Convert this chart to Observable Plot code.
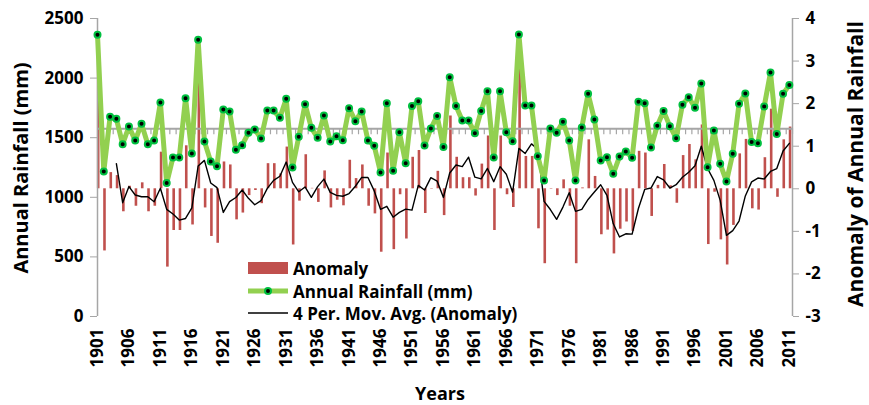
<!DOCTYPE html>
<html><head><meta charset="utf-8">
<script src="https://cdn.jsdelivr.net/npm/d3@7"></script>
<script src="https://cdn.jsdelivr.net/npm/@observablehq/plot@0.6"></script>
<style>
body{margin:0;background:#fff;font-family:"Open Sans",sans-serif;}
#wrap{position:relative;width:869px;height:405px;overflow:hidden;}
#wrap svg{position:absolute;left:0;top:0;}
.t{position:absolute;font-weight:700;color:#000;white-space:nowrap;line-height:1;transform:translate(-50%,-50%);}
.rot{transform:translate(-50%,-50%) rotate(-90deg);}
.lg{position:absolute;left:248px;font-weight:700;font-size:17px;color:#000;white-space:nowrap;display:flex;align-items:center;height:22px;}
.lg svg{position:static!important;margin-right:5px;}
</style></head><body><div id="wrap"></div>
<script>
const years = d3.range(1901, 2012);
const rainfall = [
2363,1216,1675,1658,1446,1594,1477,1616,1446,1477,
1795,1119,1334,1334,1832,1367,2321,1468,1300,1261,
1737,1720,1398,1437,1541,1569,1493,1728,1728,1667,
1826,1250,1507,1781,1583,1499,1686,1468,1513,1479,
1748,1639,1720,1477,1432,1208,1790,1222,1546,1286,
1765,1806,1435,1577,1683,1423,2008,1765,1644,1644,
1538,1725,1890,1334,1890,1546,1471,2366,1770,1770,
1345,1141,1577,1541,1633,1477,1141,1586,1868,1653,
1309,1337,1197,1342,1384,1331,1801,1790,1418,1600,
1723,1597,1496,1776,1840,1751,1955,1253,1560,1281,
1133,1365,1784,1871,1463,1454,1762,2047,1530,1868,
1943];
const anomaly = [
3.13,-1.46,0.38,0.31,-0.54,0.06,-0.41,0.14,-0.54,-0.41,
0.86,-1.84,-0.98,-0.98,1.01,-0.85,2.96,-0.45,-1.12,-1.28,
0.63,0.56,-0.73,-0.57,-0.16,-0.04,-0.35,0.59,0.59,0.35,
0.98,-1.32,-0.29,0.80,0.01,-0.32,0.42,-0.45,-0.27,-0.40,
0.67,0.24,0.56,-0.41,-0.59,-1.49,0.84,-1.43,-0.14,-1.18,
0.74,0.90,-0.58,-0.01,0.41,-0.63,1.71,0.74,0.26,0.26,
-0.17,0.58,1.24,-0.98,1.24,-0.14,-0.44,3.14,0.76,0.76,
-0.94,-1.76,-0.01,-0.16,0.21,-0.41,-1.76,0.02,1.15,0.29,
-1.08,-0.97,-1.53,-0.95,-0.78,-1.00,0.88,0.84,-0.65,0.08,
0.57,0.07,-0.34,0.78,1.04,0.68,1.50,-1.31,-0.08,-1.20,
-1.79,-0.86,0.82,1.16,-0.47,-0.50,0.73,1.87,-0.20,1.15,
1.45];
const xTicks = d3.range(1901, 2012, 5);
const rainTicks = [0, 500, 1000, 1500, 2000, 2500];
const anomalyTicks = [-3, -2, -1, 0, 1, 2, 3, 4];
const rainCross = 1575;
const xDomain = [1901, 2011.5];
const legendLabels = ["Anomaly", "Annual Rainfall (mm)", "4 Per. Mov. Avg. (Anomaly)"];

const data = years.map((year, i) => ({year, rain: rainfall[i], anomaly: anomaly[i]}));
const common = {
  width: 869, height: 405,
  marginLeft: 97, marginRight: 77, marginTop: 18, marginBottom: 89,
  style: {fontFamily: "'Open Sans'", fontSize: "17px", fontWeight: "bold", color: "#000", background: "transparent", overflow: "visible"}
};
const RED = "#C0504D", GREEN = "#92D050", DOTRING = "#00C040", GRAY = "#A6A6A6";

const pAnom = Plot.plot({
  ...common,
  x: {type: "linear", domain: xDomain, axis: null},
  y: {domain: [-3, 4], axis: null},
  marks: [
    Plot.ruleX(data, {x: "year", y1: 0, y2: "anomaly", stroke: RED, strokeWidth: 2.6, dx: 0.7}),
    Plot.lineY(data, Plot.windowY({k: 4, anchor: "end", strict: true}, {x: "year", y: "anomaly", stroke: "#000", strokeWidth: 1.4})),
    Plot.ruleX([xDomain[1]], {y1: -3, y2: 4, stroke: GRAY, strokeWidth: 1.5}),
    Plot.axisY({anchor: "right", ticks: anomalyTicks, tickSize: 6, tickPadding: 7, stroke: GRAY, fill: "#000", label: null, tickFormat: d => String(d)})
  ]
});

const pRain = Plot.plot({
  ...common,
  x: {type: "linear", domain: xDomain, axis: null},
  y: {domain: [0, 2500], axis: null},
  marks: [
    Plot.ruleY([rainCross], {x1: xDomain[0], x2: xDomain[1], stroke: GRAY, strokeWidth: 2}),
    Plot.ruleX(years, {x: d => d + 0.5, y1: rainCross, y2: rainCross, insetBottom: -6, stroke: GRAY, strokeWidth: 1.2}),
    Plot.ruleX([xDomain[0]], {y1: 0, y2: 2500, stroke: GRAY, strokeWidth: 1.5}),
    Plot.axisY({anchor: "left", ticks: rainTicks, tickSize: 7, tickPadding: 7, stroke: GRAY, fill: "#000", label: null, tickFormat: d => String(d)}),
    Plot.axisX({anchor: "bottom", ticks: xTicks, tickSize: 0, tickPadding: 12, tickRotate: -90, tickFormat: d => String(d), label: null, fontSize: 17}),
    Plot.lineY(data, {x: "year", y: "rain", stroke: GREEN, strokeWidth: 5, strokeLinejoin: "round"}),
    Plot.dot(data, {x: "year", y: "rain", r: 3, fill: "#000", stroke: DOTRING, strokeWidth: 2})
  ]
});

const wrap = document.getElementById("wrap");
wrap.appendChild(pAnom);
wrap.appendChild(pRain);

function addText(txt, x, y, size, rot) {
  const d = document.createElement("div");
  d.className = "t" + (rot ? " rot" : "");
  d.style.left = x + "px"; d.style.top = y + "px"; d.style.fontSize = size + "px";
  d.textContent = txt;
  wrap.appendChild(d);
}
addText("Annual Rainfall (mm)", 21, 168, 20, true);
addText("Anomaly of Annual Rainfall", 855, 164, 21, true);
addText("Years", 440, 393, 18, false);

const swatches = [
  `<svg width="40" height="14"><rect x="0" y="1" width="40" height="12" fill="${RED}"/></svg>`,
  `<svg width="40" height="14"><line x1="0" y1="7" x2="40" y2="7" stroke="${GREEN}" stroke-width="5"/><circle cx="20" cy="7" r="3" fill="#000" stroke="${DOTRING}" stroke-width="2"/></svg>`,
  `<svg width="40" height="14"><line x1="0" y1="7" x2="40" y2="7" stroke="#000" stroke-width="1.4"/></svg>`
];
const rowY = [257, 280, 302];
legendLabels.forEach((lab, i) => {
  const d = document.createElement("div");
  d.className = "lg";
  d.style.top = rowY[i] + "px";
  d.innerHTML = swatches[i] + "<span></span>";
  d.querySelector("span").textContent = lab;
  wrap.appendChild(d);
});
</script></body></html>
